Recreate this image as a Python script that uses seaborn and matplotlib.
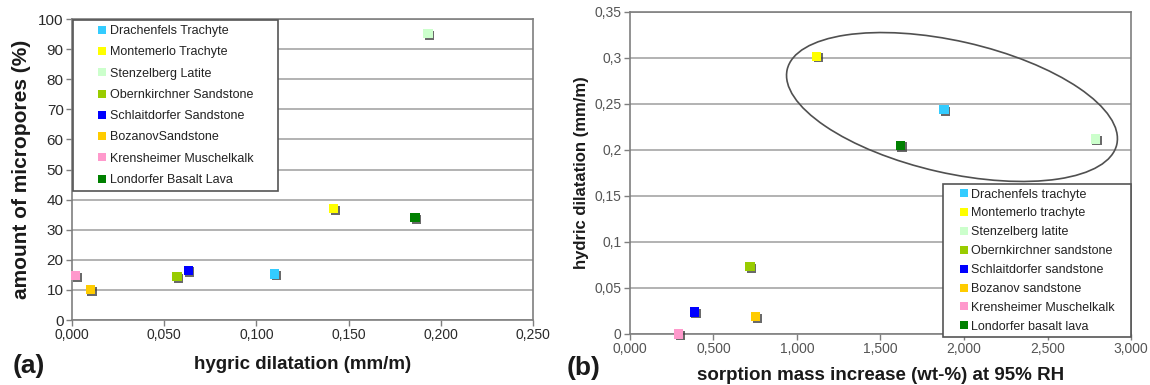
import numpy as np
import pandas as pd
import matplotlib
matplotlib.use("Agg")
import matplotlib.pyplot as plt
import seaborn as sns
import matplotlib.patheffects as pe
import matplotlib.transforms as mtransforms
from matplotlib.patches import Ellipse, Rectangle
from matplotlib.lines import Line2D

# ---------------- data ----------------
stones_a = ["Drachenfels Trachyte", "Montemerlo Trachyte", "Stenzelberg Latite",
            "Obernkirchner Sandstone", "Schlaitdorfer Sandstone", "BozanovSandstone",
            "Krensheimer Muschelkalk", "Londorfer Basalt Lava"]
stones_b = ["Drachenfels trachyte", "Montemerlo trachyte", "Stenzelberg latite",
            "Obernkirchner sandstone", "Schlaitdorfer sandstone", "Bozanov sandstone",
            "Krensheimer Muschelkalk", "Londorfer basalt lava"]
colors = ["#33CCFF", "#FFFF00", "#CCFFCC", "#99CC00", "#0000FF", "#FFCC00",
          "#FF99CC", "#008000"]

hygric_dilatation = [0.110, 0.142, 0.193, 0.057, 0.063, 0.010, 0.002, 0.186]
micropores = [15.3, 37.0, 95.2, 14.4, 16.5, 10.1, 14.8, 34.0]

sorption_increase = [1.880, 1.118, 2.786, 0.719, 0.385, 0.752, 0.291, 1.619]
hydric_dilatation = [0.244, 0.302, 0.212, 0.073, 0.024, 0.019, 0.000, 0.205]

xticks_a = [0.0, 0.05, 0.10, 0.15, 0.20, 0.25]
xticklabels_a = ["0,000", "0,050", "0,100", "0,150", "0,200", "0,250"]
yticks_a = [0, 10, 20, 30, 40, 50, 60, 70, 80, 90, 100]
yticklabels_a = ["0", "10", "20", "30", "40", "50", "60", "70", "80", "90", "100"]

xticks_b = [0.0, 0.5, 1.0, 1.5, 2.0, 2.5, 3.0]
xticklabels_b = ["0,000", "0,500", "1,000", "1,500", "2,000", "2,500", "3,000"]
yticks_b = [0.0, 0.05, 0.10, 0.15, 0.20, 0.25, 0.30, 0.35]
yticklabels_b = ["0", "0,05", "0,1", "0,15", "0,2", "0,25", "0,3", "0,35"]

# ellipse annotation (centre in data units of panel b)
ellipse_center = (1.928, 0.2467)

# ---------------- style ----------------
sns.set_style("white")
plt.rcParams["font.family"] = ["Liberation Sans", "DejaVu Sans"]

fig = plt.figure(figsize=(11.5, 3.85), dpi=100)
ax_a = fig.add_axes([0.0626, 0.1688, 0.4009, 0.7818])
ax_b = fig.add_axes([0.5478, 0.1325, 0.4357, 0.8364])

df_a = pd.DataFrame({"x": hygric_dilatation, "y": micropores, "stone": stones_a})
df_b = pd.DataFrame({"x": sorption_increase, "y": hydric_dilatation, "stone": stones_b})

shadow = [pe.SimplePatchShadow(offset=(1.2, -1.2), shadow_rgbFace="#383838", alpha=0.75),
          pe.Normal()]

sns.scatterplot(data=df_a, x="x", y="y", hue="stone", hue_order=stones_a,
                palette=dict(zip(stones_a, colors)), marker="s", s=44,
                linewidth=0, legend=False, ax=ax_a, zorder=3)
sns.scatterplot(data=df_b, x="x", y="y", hue="stone", hue_order=stones_b,
                palette=dict(zip(stones_b, colors)), marker="s", s=44,
                linewidth=0, legend=False, ax=ax_b, zorder=3)
for ax in (ax_a, ax_b):
    for coll in ax.collections:
        coll.set_path_effects(shadow)
        coll.set_clip_on(False)

grid_c = "#ADADAD"
spine_c = "#7F7F7F"


def style_axes(ax, xt, xtl, yt, ytl, xlim, ylim, xfs, yfs, tcol):
    ax.set_xlim(*xlim)
    ax.set_ylim(*ylim)
    ax.set_xticks(xt)
    ax.set_xticklabels(xtl, fontsize=xfs, color=tcol)
    ax.set_yticks(yt)
    ax.set_yticklabels(ytl, fontsize=yfs, color=tcol)
    ax.yaxis.grid(True, color=grid_c, linewidth=1.3)
    ax.xaxis.grid(False)
    ax.set_axisbelow(True)
    for s in ax.spines.values():
        s.set_color(spine_c)
        s.set_linewidth(1.2)
    ax.tick_params(axis="both", which="major", direction="out", length=4,
                   width=1.0, color=spine_c, pad=2, bottom=True, left=True)


style_axes(ax_a, xticks_a, xticklabels_a, yticks_a, yticklabels_a,
           (0, 0.25), (0, 100), 10, 11, "#2A2A2A")
style_axes(ax_b, xticks_b, xticklabels_b, yticks_b, yticklabels_b,
           (0, 3.0), (0, 0.35), 10, 10, "#555555")

ax_a.set_xlabel("hygric dilatation (mm/m)", fontsize=13.5, fontweight="bold",
                color="#1A1A1A", labelpad=10)
ax_a.set_ylabel("amount of micropores (%)", fontsize=15, fontweight="bold",
                color="#1A1A1A", labelpad=5)
ax_b.set_xlabel("sorption mass increase (wt-%) at 95% RH", fontsize=13.5,
                fontweight="bold", color="#1A1A1A", labelpad=8)
ax_b.set_ylabel("hydric dilatation (mm/m)", fontsize=12, fontweight="bold",
                color="#1A1A1A", labelpad=4)

fig.text(0.011, 0.03, "(a)", fontsize=19, fontweight="bold", color="#1A1A1A")
fig.text(0.493, 0.025, "(b)", fontsize=19, fontweight="bold", color="#1A1A1A")

# ellipse drawn in pixel size, anchored at a data centre
ell_tr = mtransforms.IdentityTransform() + mtransforms.ScaledTranslation(
    ellipse_center[0], ellipse_center[1], ax_b.transData)
ax_b.add_patch(Ellipse((0, 0), 338, 132, angle=-12.8, transform=ell_tr,
                       fill=False, edgecolor="#505050", linewidth=1.2, zorder=2))


def add_legend(ax, labels, box, labelspacing):
    x0, y0, w, h = box
    ax.add_patch(Rectangle((x0, y0), w, h, transform=ax.transAxes, facecolor="white",
                           edgecolor="#555555", linewidth=1.2, zorder=4.5,
                           clip_on=False))
    handles = [Line2D([], [], linestyle="none", marker="s", markersize=5.5,
                      markerfacecolor=c, markeredgewidth=0) for c in colors]
    leg = ax.legend(handles, labels, loc="center",
                    bbox_to_anchor=(x0 + w / 2, y0 + h / 2),
                    bbox_transform=ax.transAxes, frameon=False, fontsize=9,
                    handlelength=0.7, handletextpad=0.25, labelspacing=labelspacing,
                    borderpad=0, borderaxespad=0)
    leg.set_zorder(5)
    for t in leg.get_texts():
        t.set_color("#222222")


add_legend(ax_a, stones_a, (0.003, 0.428, 0.444, 0.569), 0.74)
add_legend(ax_b, stones_b, (0.625, -0.01, 0.375, 0.476), 0.55)

fig.savefig("out.png", dpi=100)
